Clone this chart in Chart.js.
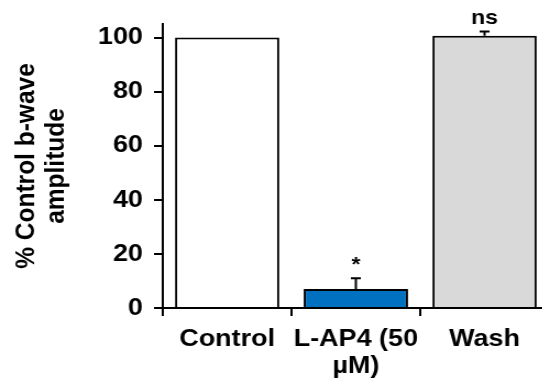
<!DOCTYPE html>
<html>
<head>
<meta charset="utf-8">
<script src="https://cdn.jsdelivr.net/npm/chart.js@4"></script>
<style>
html, body { margin: 0; padding: 0; overflow: hidden; background: #fff; }
/* the reference is stretched sideways, so the whole chart is scaled on x */
#wrap { width: 505px; height: 388px; transform: scaleX(1.1); transform-origin: 0 0; }
</style>
</head>
<body>
<div id="wrap"><canvas id="js--chart"></canvas></div>
<script>
// data
const labels = ['Control', ['L-AP4 (50', 'µM)'], 'Wash'];
const values = [100, 7, 100.7];
const errors = [0, 4, 1.5];
const marks = ['', '*', 'ns'];
const barColors = ['#FFFFFF', '#0070C0', '#D9D9D9'];
const yTicks = [0, 20, 40, 60, 80, 100];
const yTitle = ['% Control b-wave', 'amplitude'];

const fontFamily = "'Liberation Sans', Arial, sans-serif";
const font = { family: fontFamily, size: 24.5, weight: 'bold', lineHeight: 1.1 };

// error bars + significance marks
const errorBars = {
    id: 'errorBars',
    afterDatasetsDraw: function (chart) {
        const ctx = chart.ctx;
        const meta = chart.getDatasetMeta(0);
        const y = chart.scales.y;
        ctx.save();
        ctx.strokeStyle = '#000';
        ctx.fillStyle = '#000';
        ctx.lineWidth = 2;
        ctx.textAlign = 'center';
        ctx.textBaseline = 'alphabetic';
        meta.data.forEach(function (bar, i) {
            const top = y.getPixelForValue(values[i] + errors[i]);
            if (errors[i] > 0) {
                ctx.beginPath();
                ctx.moveTo(bar.x, y.getPixelForValue(values[i]));
                ctx.lineTo(bar.x, top);
                ctx.moveTo(bar.x - 4.5, top);
                ctx.lineTo(bar.x + 4.5, top);
                ctx.stroke();
            }
            if (marks[i]) {
                ctx.font = 'bold 21px ' + fontFamily;
                ctx.fillText(marks[i], bar.x, top - 7.5);
            }
        });
        ctx.restore();
    }
};

const data = {
    labels: labels,
    datasets: [{
        data: values,
        backgroundColor: barColors,
        borderColor: '#000',
        borderWidth: 2,
        barPercentage: 0.81,
        categoryPercentage: 1
    }]
};

const config = {
    type: 'bar',
    data: data,
    options: {
        responsive: true,
        maintainAspectRatio: false,
        animation: false,
        layout: { padding: { top: 24, right: 6, left: 0, bottom: 0 } },
        plugins: {
            legend: { display: false },
            tooltip: { enabled: false }
        },
        scales: {
            x: {
                grid: { drawOnChartArea: false, color: '#000', lineWidth: 2, tickLength: 8, offset: true },
                border: { color: '#000', width: 2 },
                ticks: { color: '#000', font: font, padding: 10, maxRotation: 0 },
                afterFit: function (scale) { scale.height = 80; }
            },
            y: {
                min: 0,
                max: 105,
                afterBuildTicks: function (scale) {
                    scale.ticks = yTicks.map(function (v) { return { value: v }; });
                },
                grid: { drawOnChartArea: false, color: '#000', lineWidth: 2, tickLength: 8 },
                border: { color: '#000', width: 2 },
                ticks: { color: '#000', font: font, padding: 10 },
                title: { display: true, text: yTitle, color: '#000', font: font, padding: { top: 11, bottom: 0 } },
                afterFit: function (scale) { scale.width = 148; }
            }
        }
    },
    plugins: [errorBars]
};

new Chart(document.getElementById('js--chart'), config);
</script>
</body>
</html>
